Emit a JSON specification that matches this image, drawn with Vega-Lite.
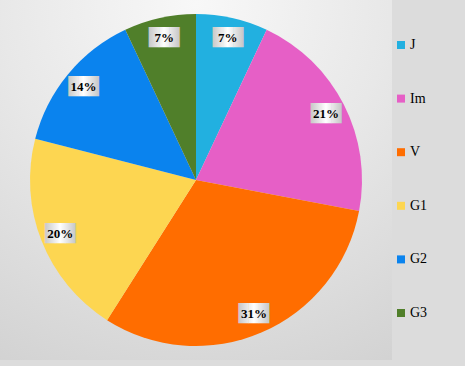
{
  "$schema": "https://vega.github.io/schema/vega-lite/v6.json",
  "width": 392,
  "height": 360,
  "autosize": {"type": "none"},
  "padding": {"left": 0, "top": 0, "right": 73, "bottom": 6},
  "background": "#dcdcdc",
  "config": {"view": {"stroke": null}},
  "data": {
    "values": [
      {"cat": "J", "value": 7, "label": "7%", "idx": 1},
      {"cat": "Im", "value": 21, "label": "21%", "idx": 2},
      {"cat": "V", "value": 31, "label": "31%", "idx": 3},
      {"cat": "G1", "value": 20, "label": "20%", "idx": 4},
      {"cat": "G2", "value": 14, "label": "14%", "idx": 5},
      {"cat": "G3", "value": 7, "label": "7%", "idx": 6}
    ]
  },
  "layer": [
    {
      "data": {"values": [{"bg": 1}]},
      "mark": {
        "type": "rect",
        "fill": {
          "gradient": "radial",
          "x1": 0.5, "y1": 0.05, "r1": 0,
          "x2": 0.5, "y2": 0.05, "r2": 1.1,
          "stops": [
            {"offset": 0, "color": "#f8f8f8"},
            {"offset": 0.45, "color": "#e8e8e8"},
            {"offset": 1, "color": "#d0d0d0"}
          ]
        }
      },
      "encoding": {}
    },
    {
      "mark": {"type": "arc", "outerRadius": 166, "stroke": null},
      "encoding": {
        "theta": {"field": "value", "type": "quantitative", "stack": true},
        "order": {"field": "idx", "type": "quantitative"},
        "color": {
          "field": "cat",
          "type": "nominal",
          "sort": ["J", "Im", "V", "G1", "G2", "G3"],
          "scale": {
            "domain": ["J", "Im", "V", "G1", "G2", "G3"],
            "range": ["#22b0e0", "#e65fc6", "#ff6d00", "#fdd651", "#0a83ee", "#507f2a"]
          },
          "legend": {
            "title": null,
            "orient": "none",
            "legendX": 394,
            "legendY": 38,
            "symbolType": "square",
            "symbolSize": 64,
            "symbolStrokeWidth": 0,
            "labelFont": "Liberation Serif",
            "labelFontSize": 14,
            "labelColor": "#000000",
            "labelOffset": 2,
            "rowPadding": 39.6,
            "padding": 0
          }
        }
      }
    },
    {
      "mark": {
        "type": "text",
        "radius": 146,
        "font": "DejaVu Sans Mono",
        "fontSize": 17,
        "baseline": "middle",
        "align": "center",
        "fill": {
          "gradient": "linear",
          "x1": 0, "y1": 0, "x2": 1, "y2": 0,
          "stops": [
            {"offset": 0, "color": "#c4c4c4"},
            {"offset": 0.5, "color": "#ffffff"},
            {"offset": 1, "color": "#c4c4c4"}
          ]
        }
      },
      "encoding": {
        "theta": {"field": "value", "type": "quantitative", "stack": true},
        "order": {"field": "idx", "type": "quantitative"},
        "text": {"value": "███"}
      }
    },
    {
      "mark": {
        "type": "text",
        "radius": 146,
        "font": "Liberation Serif",
        "fontSize": 13,
        "fontWeight": "bold",
        "baseline": "middle",
        "align": "center",
        "color": "#000000"
      },
      "encoding": {
        "theta": {"field": "value", "type": "quantitative", "stack": true},
        "order": {"field": "idx", "type": "quantitative"},
        "text": {"field": "label", "type": "nominal"}
      }
    }
  ]
}
